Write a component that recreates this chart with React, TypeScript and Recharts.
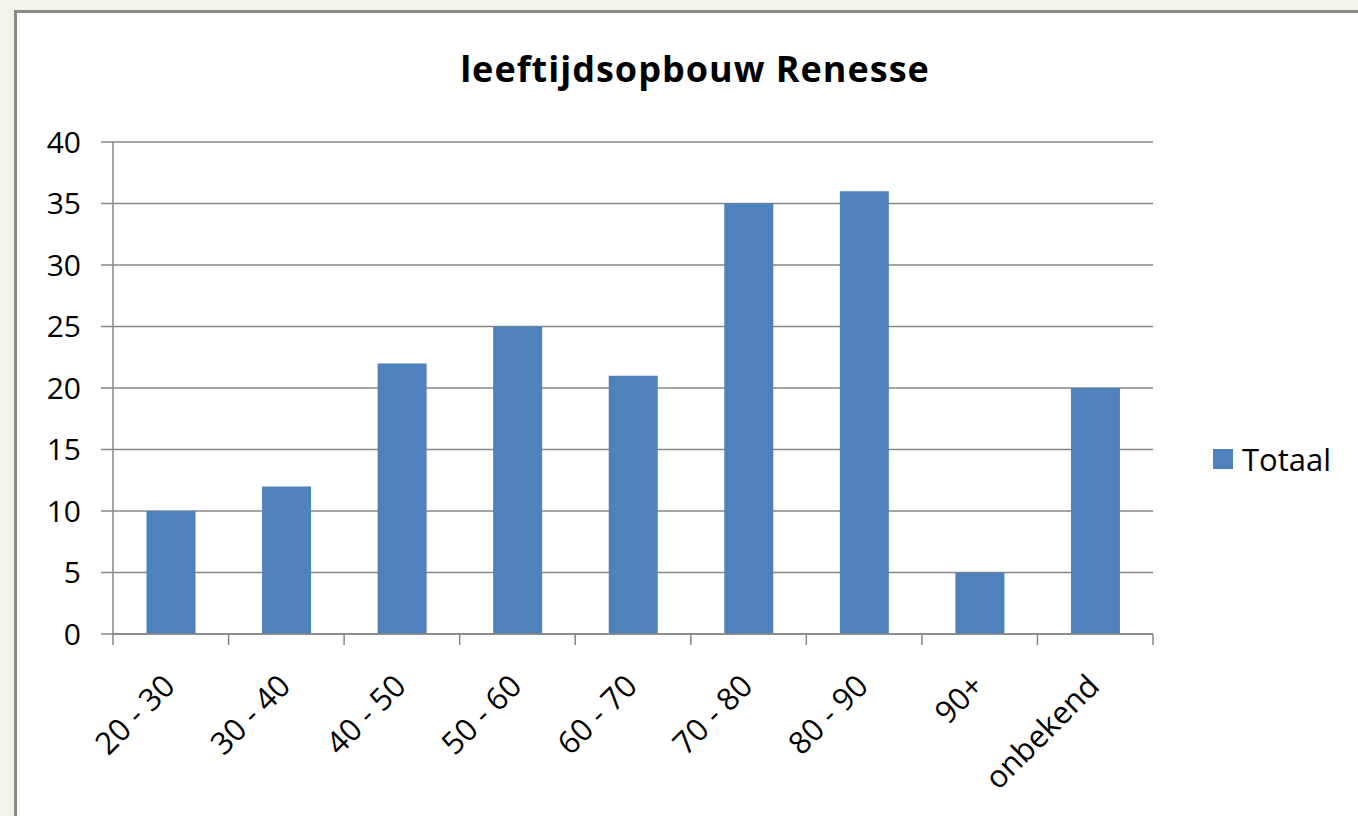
import React from "react";
import { Bar, BarChart, CartesianGrid, XAxis, YAxis } from "recharts";

const categories = ["20 - 30", "30 - 40", "40 - 50", "50 - 60", "60 - 70", "70 - 80", "80 - 90", "90+", "onbekend"];
const totaal = [10, 12, 22, 25, 21, 35, 36, 5, 20];
const yTicks = [0, 5, 10, 15, 20, 25, 30, 35, 40];

const data = categories.map((name, i) => ({ name, Totaal: totaal[i] }));

const FONT = "'Open Sans', sans-serif";
const GRID = "#878787";
const BAR = "#4f81bd";

// label rotated -45deg, plus tick marks on the category boundaries (Excel style)
const AngledTick = (props: any) => {
  const { x, y, payload, index, visibleTicksCount } = props;
  const half = payload?.offset ?? 0;
  const ax = x + 6;
  const ay = y + 54;
  const isLast = index === visibleTicksCount - 1;
  return (
    <g>
      <line x1={x - half} x2={x - half} y1={y} y2={y + 11} stroke={GRID} strokeWidth={1.5} />
      {isLast && <line x1={x + half} x2={x + half} y1={y} y2={y + 11} stroke={GRID} strokeWidth={1.5} />}
      <text
        x={ax}
        y={ay}
        textAnchor="end"
        fill="#000"
        fontSize={31}
        fontFamily={FONT}
        transform={`rotate(-45, ${ax}, ${ay})`}
      >
        {payload.value}
      </text>
    </g>
  );
};

export default function App() {
  return (
    <div style={{ position: "absolute", left: 0, top: 0, width: 1358, height: 816, background: "#f4f3ea", overflow: "hidden" }}>
      <div
        style={{
          position: "absolute",
          left: 14,
          top: 10,
          right: 0,
          bottom: 0,
          background: "#fff",
          borderLeft: "3px solid #8a8a8a",
          borderTop: "3px solid #8a8a8a",
        }}
      />
      <div
        style={{
          position: "absolute",
          left: 0,
          width: 1390,
          top: 44,
          textAlign: "center",
          fontFamily: FONT,
          fontWeight: 700,
          fontSize: 36,
          letterSpacing: 1,
          color: "#000",
        }}
      >
        leeftijdsopbouw Renesse
      </div>
      <div style={{ position: "absolute", left: 0, top: 0 }}>
        <BarChart
          width={1358}
          height={816}
          data={data}
          margin={{ top: 142, right: 205, left: 0, bottom: 0 }}
          barCategoryGap="29%"
        >
          <CartesianGrid vertical={false} stroke={GRID} strokeWidth={1.5} />
          <XAxis
            dataKey="name"
            interval={0}
            height={182}
            tickSize={0}
            tickMargin={0}
            tickLine={false}
            axisLine={{ stroke: GRID, strokeWidth: 1.5 }}
            tick={<AngledTick />}
          />
          <YAxis
            width={113}
            domain={[0, 40]}
            ticks={yTicks}
            interval={0}
            tickSize={12}
            tickMargin={20}
            axisLine={{ stroke: GRID, strokeWidth: 1.5 }}
            tickLine={{ stroke: GRID, strokeWidth: 1.5 }}
            tick={{ fill: "#000", fontSize: 30, fontFamily: FONT }}
          />
          <Bar dataKey="Totaal" fill={BAR} isAnimationActive={false} />
        </BarChart>
      </div>
      <div
        style={{
          position: "absolute",
          left: 1213,
          top: 438,
          display: "flex",
          alignItems: "center",
          fontFamily: FONT,
          fontSize: 31,
          color: "#000",
        }}
      >
        <span style={{ display: "inline-block", width: 20, height: 20, background: BAR, marginRight: 9 }} />
        <span>Totaal</span>
      </div>
    </div>
  );
}
